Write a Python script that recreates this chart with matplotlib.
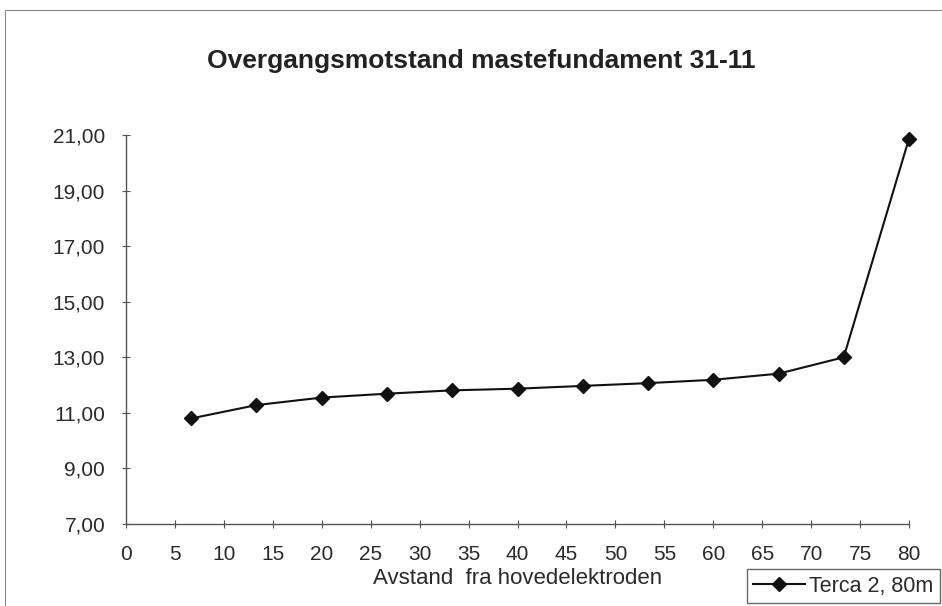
import matplotlib.pyplot as plt
from matplotlib.patches import Rectangle
from matplotlib.ticker import FuncFormatter

plt.rcParams['font.family'] = ['Liberation Sans', 'DejaVu Sans']

# Distance from main electrode (m) and measured resistance
avstand = [6.67, 13.33, 20.0, 26.67, 33.33, 40.0, 46.67, 53.33, 60.0, 66.67, 73.33, 80.0]
motstand = [10.80, 11.28, 11.55, 11.69, 11.81, 11.87, 11.97, 12.07, 12.19, 12.41, 13.00, 20.87]
serie = "Terca 2, 80m"

fig = plt.figure(figsize=(9.42, 6.06), dpi=100)
ax = fig.add_axes([126 / 942, 1 - 524 / 606, 783 / 942, 389 / 606])

ax.plot(avstand, motstand, color='#111111', lw=1.5, marker='D', ms=7.5,
        markerfacecolor='#111111', clip_on=False, label=serie)

ax.set_xlim(0, 80)
ax.set_ylim(7, 21)
ax.set_xticks(range(0, 81, 5))
ax.set_yticks(range(7, 22, 2))
ax.yaxis.set_major_formatter(FuncFormatter(lambda v, p: f"{v:.2f}".replace('.', ',')))

for s in ['top', 'right']:
    ax.spines[s].set_visible(False)
for s in ['left', 'bottom']:
    ax.spines[s].set_color('#555555')
    ax.spines[s].set_linewidth(1.0)
ax.tick_params(direction='inout', length=6, width=0.8, color='#555555',
               labelsize=15, pad=12, labelcolor='#2a2a2a')

fig.text(ax.get_position().x0 + ax.get_position().width / 2, 1 - 578 / 606,
         "Avstand  fra hovedelektroden", ha='center', va='center',
         fontsize=16, color='#2a2a2a')
fig.text(481 / 942, 1 - 61 / 606, "Overgangsmotstand mastefundament 31-11", ha='center',
         va='center', fontsize=19, fontweight='bold', color='#222222')

leg = fig.legend(loc='lower right', bbox_to_anchor=(940 / 942, 1 - 603 / 606), fontsize=15.5,
                 frameon=True, fancybox=False, edgecolor='#444444',
                 handlelength=2.4, borderpad=0.3, handletextpad=0.2,
                 borderaxespad=0)
leg.get_frame().set_linewidth(1.0)
for t in leg.get_texts():
    t.set_color('#2a2a2a')

# outer chart border (top and left)
fig.add_artist(Rectangle((5 / 942, -0.05), 1.2, 1.05 - 10 / 606,
                         transform=fig.transFigure, fill=False,
                         edgecolor='#888888', lw=0.8))

fig.savefig("out.png", dpi=100)
